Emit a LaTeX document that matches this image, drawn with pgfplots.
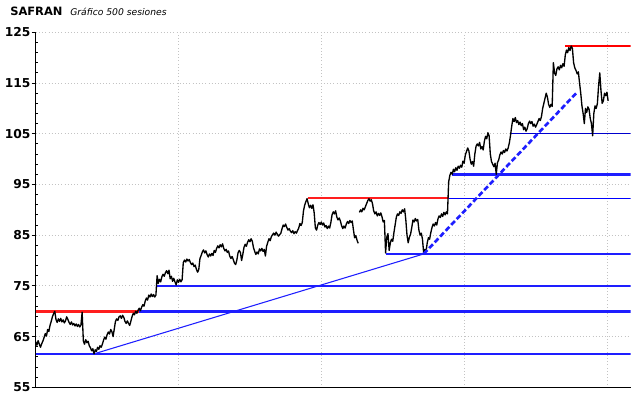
\documentclass[border=0pt]{standalone}
\usepackage{pgfplots}
\pgfplotsset{compat=1.18}
\usepackage{fontspec}
\setmainfont{DejaVu Sans}
\definecolor{thickblue}{RGB}{30,30,255}
\definecolor{thickred}{RGB}{255,30,30}
\definecolor{darkblue}{RGB}{0,0,205}
\definecolor{gridgray}{RGB}{195,195,195}
\begin{document}
\begin{tikzpicture}[x=1pt,y=1pt]
\useasboundingbox (0,0) rectangle (480,298.5);
\node[anchor=base west, inner sep=0pt, font=\fontsize{8.6}{10}\selectfont\bfseries] at (7.5,287) {SAFRAN};
\node[anchor=base west, inner sep=0pt, font=\fontsize{6.9}{8}\selectfont\itshape] at (52.5,287) {Gráfico 500 sesiones};
\begin{axis}[
  at={(26.8pt,8pt)}, anchor=south west, scale only axis,
  width=446.25pt, height=266.25pt,
  xmin=0, xmax=500, ymin=55, ymax=125,
  axis x line*=bottom, axis y line*=left,
  axis line style={black, line width=0.9pt},
  xtick={120,240,360,480}, xticklabels={}, x tick style={draw=none},
  ytick={55,65,...,125}, minor y tick num=4,
  grid=major, major grid style={draw=gridgray, dotted, line width=0.6pt},
  tick align=outside, major tick length=3pt, minor tick length=2pt,
  tick style={black, line width=0.6pt},
  minor tick style={xshift=2pt},
  y tick label style={font=\fontsize{9.2}{10}\selectfont\bfseries, inner sep=0.8pt},
  /pgf/number format/assume math mode=true,
  unbounded coords=jump,
]
% support / resistance lines
\addplot[thickred, line width=2pt] coordinates {(0,70) (86.6,70)};
\addplot[thickblue, line width=2pt] coordinates {(86.6,70) (500,70)};
\addplot[thickblue, line width=2pt] coordinates {(0,61.6) (500,61.6)};
\addplot[thickblue, line width=0.8pt] coordinates {(49,61.6) (326,81.3)};
\addplot[thickblue, line width=2pt] coordinates {(101,75) (500,75)};
\addplot[thickred, line width=2pt] coordinates {(228.5,92.3) (347,92.3)};
\addplot[thickblue, line width=2pt] coordinates {(294,81.3) (500,81.3)};
\addplot[blue, line width=0.8pt] coordinates {(347,92.3) (500,92.3)};
\addplot[thickblue, line width=2pt] coordinates {(350,97) (500,97)};
\addplot[darkblue, line width=0.9pt] coordinates {(399,105) (500,105)};
\addplot[red, line width=1.1pt] coordinates {(445,122.3) (500,122.3)};
% price
\addplot[black, line width=1pt, line join=round] coordinates {
(0,64.0)(1,63.3)(2,64.2)(3,63.5)(4,62.9)(5,63.6)(6,64.1)(7,64.8)(8,65.6)(9,65.1)
(10,66.4)(11,66.0)(12,67.2)(13,68.0)(14,68.9)(15,69.5)(16,70.0)(17,68.4)(18,67.8)(19,68.5)
(20,68.0)(21,68.6)(22,67.9)(23,68.3)(24,67.7)(25,68.1)(26,68.9)(27,68.4)(28,67.8)(29,67.4)
(30,67.9)(31,67.3)(32,67.6)(33,67.1)(34,67.5)(35,67.0)(36,67.4)(37,66.9)(38,67.3)(39,69.8)
(40,64.2)(41,63.5)(42,64.4)(43,63.8)(44,64.1)(45,63.2)(46,62.8)(47,62.2)(48,62.6)(49,61.6)
(50,62.4)(51,62.1)(52,62.9)(53,62.5)(54,63.2)(55,62.9)(56,63.5)(57,64.3)(58,64.9)(59,64.5)
(60,65.4)(61,65.9)(62,65.5)(63,66.4)(64,66.0)(65,65.0)(66,66.5)(67,68.0)(68,68.5)(69,68.2)
(70,68.9)(71,69.1)(72,68.6)(73,69.2)(74,68.8)(75,68.0)(76,67.6)(77,68.1)(78,67.6)(79,67.2)
(80,68.1)(81,69.0)(82,69.6)(83,69.3)(84,70.0)(85,69.6)(86,70.2)(87,70.6)(88,70.1)(89,70.8)
(90,71.3)(91,71.0)(92,72.0)(93,72.6)(94,72.2)(95,73.2)(96,72.8)(97,73.4)(98,72.9)(99,73.3)
(100,72.8)(101,73.2)(102,77.0)(103,75.5)(104,76.3)(105,75.8)(106,76.8)(107,77.3)(108,76.9)(109,77.6)
(110,78.0)(111,77.4)(112,78.1)(113,76.4)(114,76.9)(115,75.9)(116,76.5)(117,75.8)(118,75.2)(119,76.2)
(120,75.7)(121,76.3)(122,75.8)(123,76.2)(124,79.6)(125,80.1)(126,79.7)(127,80.3)(128,79.9)(129,80.2)
(130,79.6)(131,79.2)(132,79.5)(133,78.8)(134,79.1)(135,78.3)(136,77.7)(137,78.2)(138,80.4)(139,81.0)
(140,81.7)(141,82.1)(142,81.5)(143,81.9)(144,81.2)(145,80.7)(146,81.3)(147,80.9)(148,81.4)(149,81.0)
(150,82.0)(151,81.6)(152,82.4)(153,82.9)(154,82.5)(155,83.1)(156,82.7)(157,83.3)(158,82.4)(159,81.9)
(160,82.2)(161,81.6)(162,81.9)(163,80.9)(164,80.4)(165,80.8)(166,80.2)(167,79.5)(168,79.2)(169,80.1)
(170,81.5)(171,82.0)(172,81.6)(173,80.0)(174,81.2)(175,82.6)(176,83.2)(177,82.8)(178,83.6)(179,84.1)
(180,83.7)(181,84.3)(182,83.8)(183,82.5)(184,81.8)(185,81.2)(186,81.7)(187,81.3)(188,82.3)(189,81.9)
(190,82.4)(191,81.8)(192,82.2)(193,80.9)(194,82.8)(195,83.6)(196,84.3)(197,83.9)(198,84.7)(199,85.1)
(200,85.4)(201,85.0)(202,85.6)(203,85.2)(204,84.8)(205,85.1)(206,85.4)(207,86.3)(208,87.0)(209,86.7)
(210,87.2)(211,86.5)(212,86.0)(213,86.3)(214,85.8)(215,85.5)(216,85.9)(217,85.3)(218,85.7)(219,85.4)
(220,85.9)(221,86.4)(222,87.3)(223,86.9)(224,87.5)(225,89.8)(226,90.9)(227,91.6)(228,92.2)(229,91.2)
(230,90.4)(231,90.9)(232,90.3)(233,91.0)(234,89.4)(235,86.4)(236,86.0)(237,87.0)(238,87.5)(239,87.1)
(240,87.6)(241,87.0)(242,87.4)(243,86.6)(244,86.9)(245,86.3)(246,86.8)(247,86.4)(248,87.5)(249,89.0)
(250,89.6)(251,89.2)(252,89.8)(253,88.6)(254,88.0)(255,88.4)(256,87.8)(257,86.9)(258,86.3)(259,86.8)
(260,86.4)(261,87.2)(262,87.7)(263,87.3)(264,87.9)(265,87.5)(266,87.8)(267,86.0)(268,84.5)(269,84.9)
(270,84.0)(271,83.4)(271.5,nan)(272,89.5)(273,90.0)(274,89.6)(275,90.3)(276,90.0)(277,90.6)(278,91.2)(279,91.8)
(280,92.2)(281,91.7)(282,92.0)(283,91.2)(284,89.8)(285,89.2)(286,89.6)(287,88.8)(288,89.3)(289,88.9)
(290,89.4)(291,88.6)(292,87.6)(293,87.9)(294,81.5)(295,84.6)(296,85.3)(297,82.0)(298,83.5)(299,84.2)
(300,83.8)(301,85.5)(302,87.0)(303,88.5)(304,89.2)(305,88.9)(306,89.6)(307,89.3)(308,90.0)(309,89.6)
(310,90.2)(311,88.0)(312,85.0)(313,83.5)(314,84.6)(315,85.2)(316,86.5)(317,88.0)(318,87.6)(319,88.3)
(320,87.8)(321,88.1)(322,86.0)(323,85.0)(324,85.4)(325,84.2)(326,81.5)(327,82.2)(328,81.8)(329,83.5)
(330,84.5)(331,84.2)(332,85.5)(333,86.5)(334,87.2)(335,86.8)(336,87.5)(337,87.0)(338,88.2)(339,88.8)
(340,88.5)(341,89.2)(342,88.7)(343,89.5)(344,89.0)(345,89.6)(346,89.2)(347,95.5)(348,96.8)(349,97.4)
(350,97.0)(351,98.0)(352,97.5)(353,98.3)(354,97.8)(355,98.6)(356,98.2)(357,98.8)(358,98.4)(359,99.6)
(360,99.2)(361,100.8)(362,101.5)(363,102.2)(364,101.6)(365,100.0)(366,99.0)(367,99.5)(368,98.6)(369,101.0)
(370,102.5)(371,103.0)(372,102.6)(373,103.3)(374,102.0)(375,102.5)(376,101.8)(377,103.5)(378,104.5)(379,104.0)
(380,105.2)(381,104.6)(382,101.0)(383,99.5)(384,99.0)(385,98.5)(386,99.2)(387,97.0)(388,99.3)(389,99.8)
(390,100.8)(391,101.4)(392,101.0)(393,101.7)(394,101.3)(395,102.0)(396,101.6)(397,102.2)(398,103.2)(399,104.7)
(400,106.5)(401,108.0)(402,107.4)(403,108.2)(404,107.2)(405,107.6)(406,106.8)(407,107.3)(408,106.6)(409,107.0)
(410,105.8)(411,106.3)(412,105.5)(413,106.0)(414,107.0)(415,107.5)(416,107.0)(417,107.4)(418,106.5)(419,106.9)
(420,106.3)(421,106.8)(422,107.4)(423,108.0)(424,107.6)(425,108.4)(426,110.0)(427,111.0)(428,112.0)(429,113.0)
(430,112.2)(431,110.8)(432,110.2)(433,110.8)(434,110.4)(435,119.0)(436,117.0)(437,116.5)(438,117.8)(439,118.2)
(440,117.6)(441,118.5)(442,118.0)(443,118.8)(444,118.3)(445,120.5)(446,121.5)(447,121.0)(448,122.0)(449,121.4)
(450,122.3)(451,121.8)(452,119.0)(453,118.0)(454,117.5)(455,116.8)(456,117.2)(457,115.0)(458,113.0)(459,110.5)
(460,109.0)(461,107.0)(462,110.0)(463,109.2)(464,110.3)(465,109.8)(466,108.0)(467,107.0)(468,104.6)(469,109.0)
(470,110.5)(471,110.0)(472,111.0)(473,114.5)(474,117.0)(475,113.5)(476,111.0)(477,111.5)(478,113.0)(479,112.5)
(480,113.2)(481,111.5)
};
\addplot[thickblue, line width=2pt, dash pattern=on 4pt off 2pt] coordinates {(326,81.3) (455,113.2)};
\end{axis}
\end{tikzpicture}
\end{document}
